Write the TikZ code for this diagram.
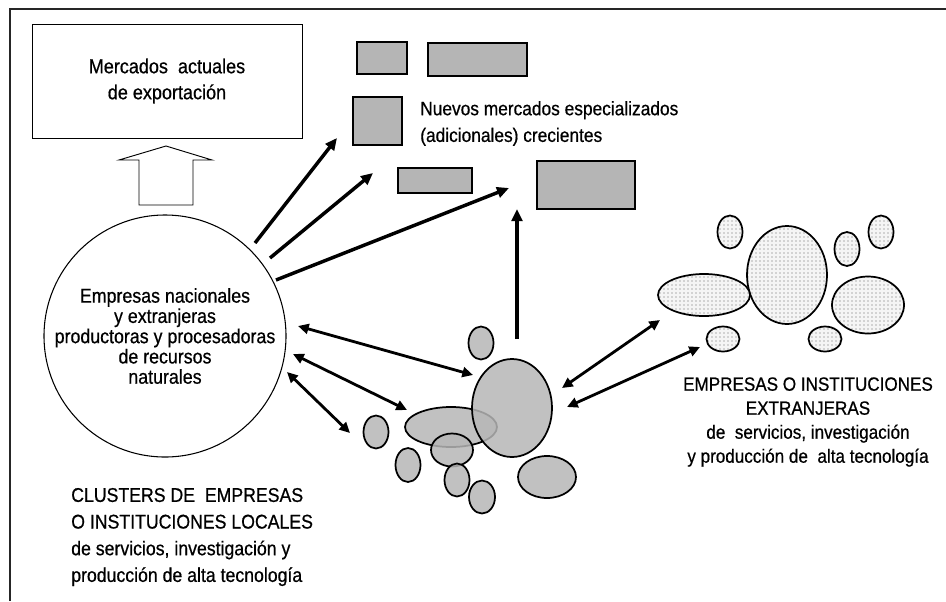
\documentclass[tikz,border=0pt]{standalone}
\usepackage{fontspec}
\setmainfont{Liberation Sans}[FakeStretch=0.89,FakeBold=0.6]
\usetikzlibrary{shapes.geometric,arrows.meta,patterns}
\begin{document}
\begin{tikzpicture}[x=0.75pt,y=-0.75pt,
  sz/.style 2 args={minimum width=#1*0.75pt,minimum height=#2*0.75pt,inner sep=0pt,outer sep=0pt},
  mkt/.style={draw,line width=0.9pt,fill=gray!58},
  loc/.style={ellipse,draw,line width=1.3pt,fill=gray!57,fill opacity=0.85},
  ext/.style={ellipse,draw,line width=1.3pt,preaction={fill=gray!8},pattern=dots,pattern color=black!60},
  txt/.style={font=\fontsize{14.9}{20}\selectfont,inner sep=0pt},
  arr/.style={line width=2.6pt,-{Triangle[length=9pt,width=8pt]}},
  darr/.style={line width=2.1pt,{Triangle[length=8pt,width=7.5pt]}-{Triangle[length=8pt,width=7.5pt]}},
]
\useasboundingbox (0,0) rectangle (946,601);
% frame
\draw[line width=2.2pt,black!85] (10,601) -- (10,9) -- (946,9);

% current export markets
\node[draw,line width=0.7pt,sz={270}{114},txt,align=center,font=\fontsize{15.2}{19.5}\selectfont] (mer) at (167,81) {Mercados \ actuales\\de exportación};
% hollow arrow
\draw[line width=0.7pt] (139,205) -- (139,160) -- (119,160) -- (166,146) -- (212,160) -- (193,160) -- (193,205) -- cycle;

% new markets
\node[mkt,sz={50}{32}] (r1) at (382,58) {};
\node[mkt,sz={99}{33}] (r2) at (477.5,59.5) {};
\node[mkt,sz={49}{48}] (r3) at (377.5,121) {};
\node[mkt,sz={74}{25}] (r4) at (435,180.5) {};
\node[mkt,sz={98}{48}] (r5) at (586,185) {};
\node[txt,anchor=west,align=left,font=\fontsize{14.6}{20}\selectfont] (nuevos) at (420,123.5) {Nuevos mercados especializados\\(adicionales) crecientes};

% main circle
\node[circle,draw,line width=0.8pt,sz={242}{242},txt,align=center,font=\fontsize{15}{15.2}\selectfont] (emp) at (165,336)
  {Empresas nacionales\\y extranjeras\\productoras y procesadoras\\de recursos\\naturales};

% local cluster
\node[loc,sz={25}{33}] (e1) at (481,343) {};
\node[loc,sz={92}{40}] (e3) at (451,427) {};
\node[loc,sz={80}{98}] (e2) at (512,408) {};
\node[loc,sz={42}{33}] (e4) at (452,450) {};
\node[loc,sz={25}{33}] (e5) at (376,432) {};
\node[loc,sz={25}{34}] (e6) at (408,465) {};
\node[loc,sz={25}{33}] (e7) at (457,480) {};
\node[loc,sz={26}{33}] (e8) at (482,497) {};
\node[loc,sz={58}{42}] (e9) at (547,477) {};

% foreign cluster
\node[ext,sz={25}{33}] (f1) at (730,232) {};
\node[ext,sz={80}{98}] (f2) at (787,275) {};
\node[ext,sz={25}{34}] (f3) at (847,249) {};
\node[ext,sz={25}{33}] (f4) at (881,232) {};
\node[ext,sz={92}{42}] (f5) at (704,295) {};
\node[ext,sz={72}{57}] (f6) at (868,305) {};
\node[ext,sz={33}{25}] (f7) at (723,339) {};
\node[ext,sz={33}{25}] (f8) at (825,339) {};

% labels
\node[txt,anchor=west,align=left,font=\fontsize{14.9}{20}\selectfont] (loclab) at (71,537)
  {CLUSTERS DE \ EMPRESAS\\O INSTITUCIONES LOCALES\\de servicios, investigación y\\producción de alta tecnología};
\node[txt,align=center,font=\fontsize{14.4}{18}\selectfont] (extlab) at (808,422)
  {EMPRESAS O INSTITUCIONES\\EXTRANJERAS\\de \ servicios, investigación\\y producción de \ alta tecnología};

% arrow end points
\coordinate (a1s) at (255,243); \coordinate (a1e) at (337,138);
\coordinate (a2s) at (270,258); \coordinate (a2e) at (373,173);
\coordinate (a3s) at (276,280); \coordinate (a3e) at (509,188);
\coordinate (a4s) at (517,339); \coordinate (a4e) at (517,209);
\coordinate (d1s) at (298,326); \coordinate (d1e) at (473,375);
\coordinate (d2s) at (293,354); \coordinate (d2e) at (407,410);
\coordinate (d3s) at (287,372); \coordinate (d3e) at (350,433);
\coordinate (d4s) at (562,388); \coordinate (d4e) at (660,320);
\coordinate (d5s) at (567,407); \coordinate (d5e) at (700,347);

\draw[arr] (a1s) -- (a1e);
\draw[arr] (a2s) -- (a2e);
\draw[arr] (a3s) -- (a3e);
\draw[arr] (a4s) -- (a4e);
\draw[darr] (d1s) -- (d1e);
\draw[darr] (d2s) -- (d2e);
\draw[darr] (d3s) -- (d3e);
\draw[darr] (d4s) -- (d4e);
\draw[darr] (d5s) -- (d5e);
\end{tikzpicture}
\end{document}
